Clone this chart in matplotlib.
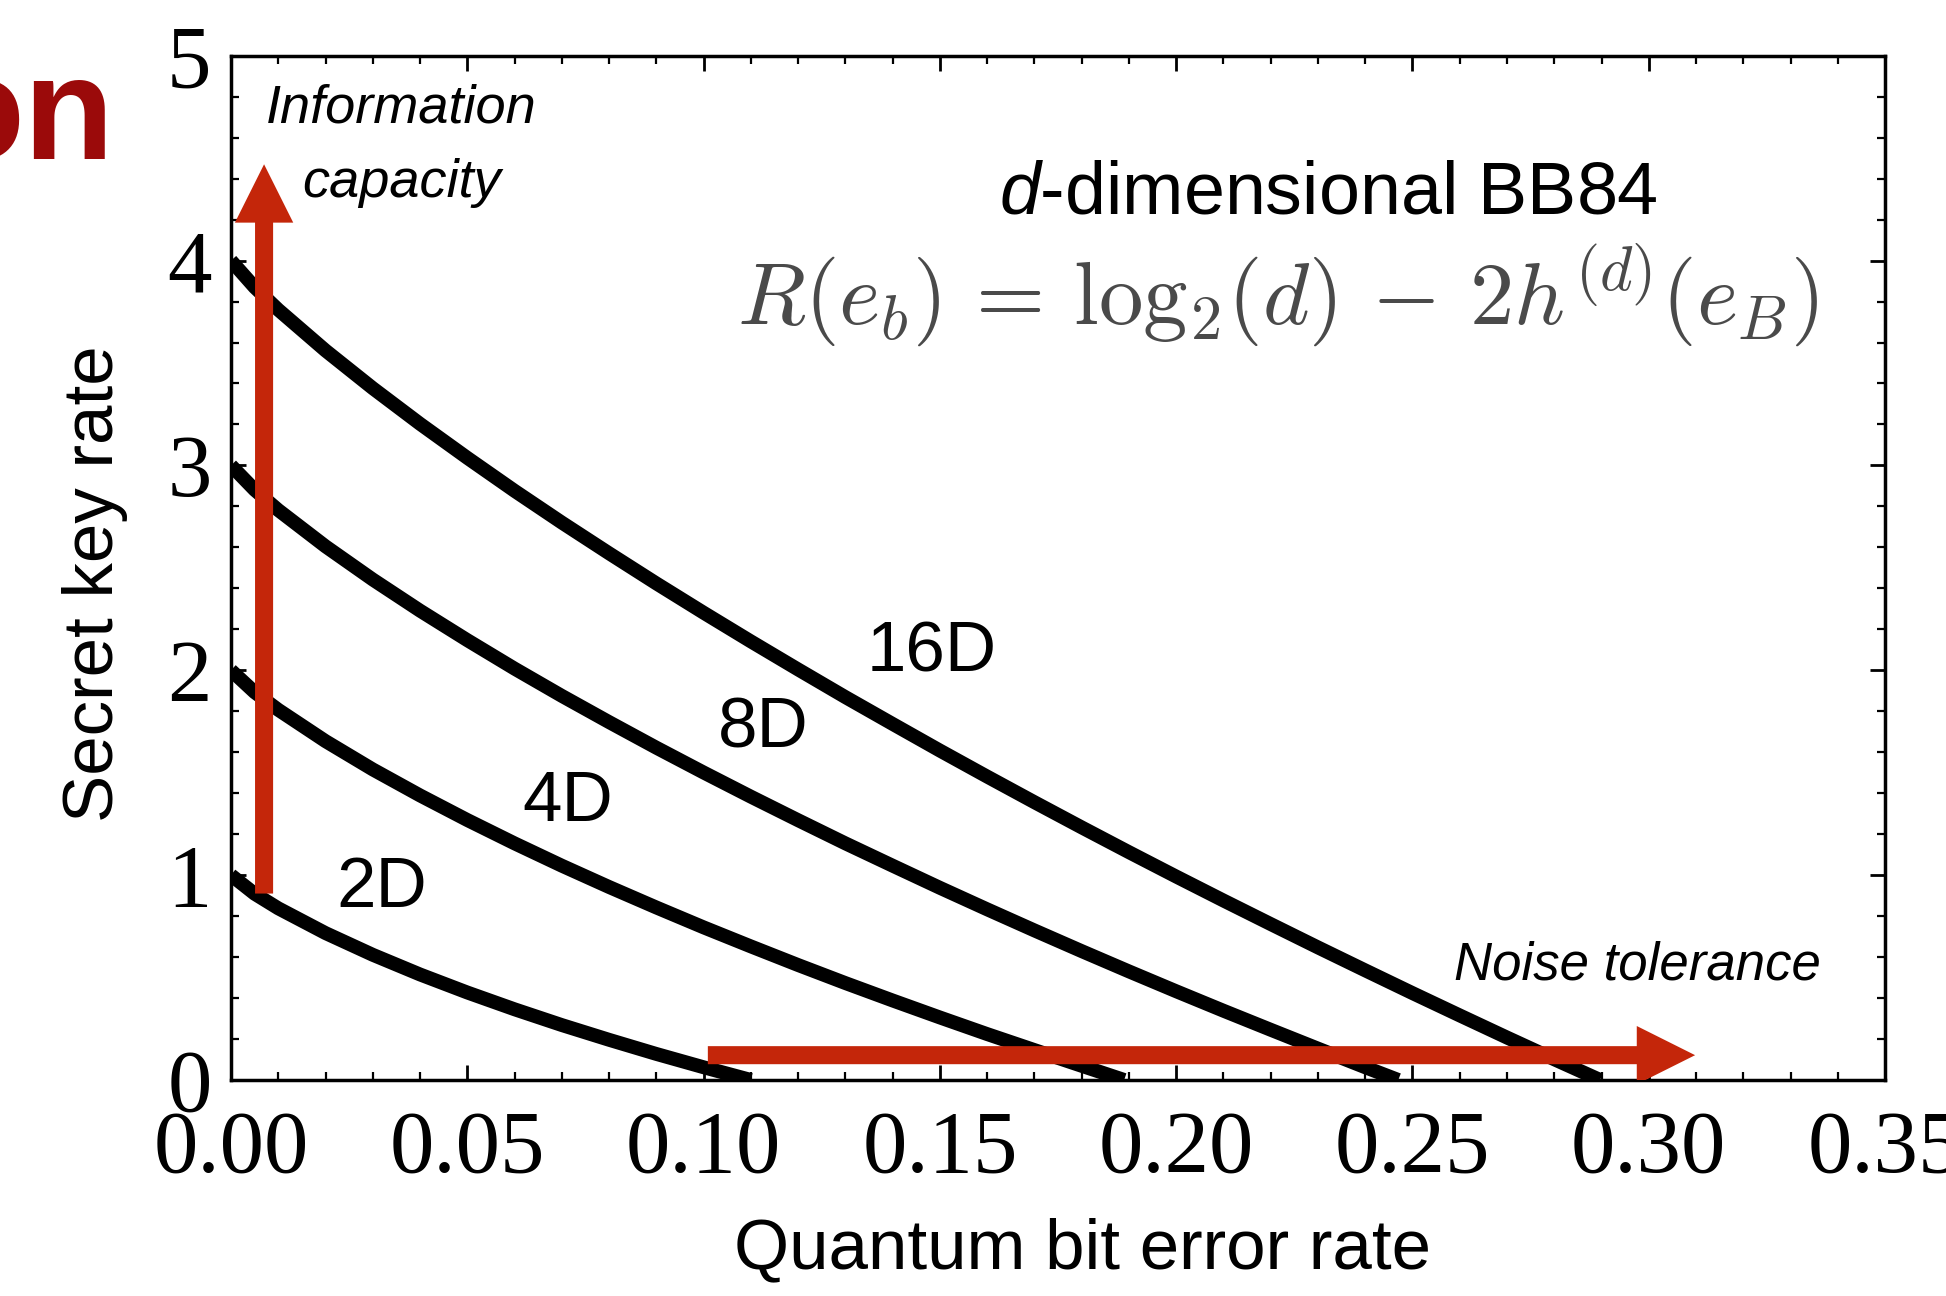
import matplotlib.pyplot as plt
from matplotlib.patches import FancyArrowPatch
from matplotlib.ticker import MultipleLocator, FormatStrFormatter

# Secret key rate of d-dimensional BB84 vs. quantum bit error rate
error_2d = [0.0, 0.005, 0.01, 0.02, 0.03, 0.04, 0.05, 0.06, 0.07, 0.08, 0.09,
            0.10, 0.11]
rate_2d = [1.0, 0.909, 0.838, 0.717, 0.611, 0.515, 0.427, 0.345, 0.268, 0.196,
           0.127, 0.062, 0.0]

error_4d = [0.0, 0.005, 0.01, 0.02, 0.03, 0.04, 0.05, 0.06, 0.07, 0.08, 0.09,
            0.10, 0.11, 0.12, 0.13, 0.14, 0.15, 0.16, 0.17, 0.18, 0.189]
rate_4d = [2.0, 1.893, 1.807, 1.654, 1.516, 1.389, 1.269, 1.155, 1.046, 0.942,
           0.842, 0.745, 0.652, 0.561, 0.473, 0.388, 0.305, 0.224, 0.146,
           0.069, 0.0]

error_8d = [0.0, 0.005, 0.01, 0.02, 0.03, 0.04, 0.05, 0.06, 0.07, 0.08, 0.09,
            0.10, 0.11, 0.12, 0.13, 0.14, 0.15, 0.16, 0.17, 0.18, 0.19, 0.20,
            0.21, 0.22, 0.23, 0.24, 0.247]
rate_8d = [3.0, 2.881, 2.782, 2.605, 2.443, 2.291, 2.147, 2.008, 1.875, 1.747,
           1.622, 1.501, 1.383, 1.268, 1.155, 1.046, 0.938, 0.833, 0.730,
           0.629, 0.530, 0.433, 0.338, 0.245, 0.153, 0.062, 0.0]

error_16d = [0.0, 0.005, 0.01, 0.02, 0.03, 0.04, 0.05, 0.06, 0.07, 0.08, 0.09,
             0.10, 0.11, 0.12, 0.13, 0.14, 0.15, 0.16, 0.17, 0.18, 0.19, 0.20,
             0.21, 0.22, 0.23, 0.24, 0.25, 0.26, 0.27, 0.28, 0.2897]
rate_16d = [4.0, 3.870, 3.760, 3.561, 3.377, 3.203, 3.037, 2.876, 2.721, 2.571,
            2.424, 2.281, 2.141, 2.004, 1.869, 1.738, 1.608, 1.481, 1.356,
            1.233, 1.112, 0.993, 0.876, 0.761, 0.647, 0.535, 0.424, 0.315,
            0.207, 0.101, 0.0]

curve_names = ["2D", "4D", "8D", "16D"]
label_pos = [(0.0318, 0.93), (0.0712, 1.35), (0.1127, 1.71), (0.1482, 2.08)]

x_ticks = [0.0, 0.05, 0.10, 0.15, 0.20, 0.25, 0.30, 0.35]
y_ticks = [0, 1, 2, 3, 4, 5]

sans = ["Liberation Sans", "DejaVu Sans"]
serif = ["Liberation Serif", "DejaVu Serif"]
red = "#c4260a"

plt.rcParams["mathtext.fontset"] = "custom"
plt.rcParams["mathtext.rm"] = "Liberation Sans"
plt.rcParams["mathtext.it"] = "Liberation Sans:italic"

fig = plt.figure(figsize=(19.46, 12.96), dpi=100)
ax = fig.add_axes([0.1187, 0.1667, 0.8500, 0.7903])

curves = [(error_2d, rate_2d), (error_4d, rate_4d),
          (error_8d, rate_8d), (error_16d, rate_16d)]
for (xs, ys), name, (lx, ly) in zip(curves, curve_names, label_pos):
    ax.plot(xs, ys, color="black", lw=10, solid_capstyle="butt", zorder=2)
    ax.text(lx, ly, name, family=sans, fontsize=51, ha="center", va="center")

ax.set_xlim(0, 0.35)
ax.set_ylim(0, 5)
ax.set_xticks(x_ticks)
ax.set_yticks(y_ticks)
ax.xaxis.set_minor_locator(MultipleLocator(0.01))
ax.yaxis.set_minor_locator(MultipleLocator(0.2))
ax.xaxis.set_major_formatter(FormatStrFormatter("%.2f"))
ax.tick_params(which="both", direction="in", top=True, right=True)
ax.tick_params(which="major", length=11, width=2)
ax.tick_params(which="minor", length=6, width=1.6)
ax.tick_params(axis="x", pad=21)
ax.tick_params(axis="y", pad=14)
for lab in ax.get_xticklabels() + ax.get_yticklabels():
    lab.set_family(serif)
    lab.set_fontsize(64)
for sp in ax.spines.values():
    sp.set_linewidth(2.5)

ax.set_xlabel("Quantum bit error rate", family=sans, fontsize=51)
ax.xaxis.set_label_coords(0.515, -0.134)
ax.set_ylabel("Secret key rate", family=sans, fontsize=51)
ax.yaxis.set_label_coords(-0.062, 0.485)

# annotations inside the plot
ax.text(0.2323, 4.23, r"$d$-dimensional BB84", family=sans, fontsize=53,
        ha="center", va="baseline", math_fontfamily="custom")
ax.text(0.2215, 3.83, r"$R(e_b) \,=\, \mathrm{log}_2(d) \,-\, 2h^{(d)}(e_B)$",
        fontsize=64, color="#4a4a4a", ha="center", va="center",
        math_fontfamily="cm")
ax.text(0.036, 4.74, "Information", family=sans, style="italic",
        fontsize=39, ha="center", va="center")
ax.text(0.036, 4.38, "capacity", family=sans, style="italic",
        fontsize=39, ha="center", va="center")
ax.text(0.2975, 0.56, "Noise tolerance", family=sans, style="italic",
        fontsize=38, ha="center", va="center")

arrow_style = "simple,head_length=4.2,head_width=4.2,tail_width=1.3"
up = FancyArrowPatch((0.0070, 0.91), (0.0070, 4.47), arrowstyle=arrow_style,
                     mutation_scale=10, color=red, lw=0, zorder=4,
                     shrinkA=0, shrinkB=0)
right = FancyArrowPatch((0.1009, 0.121), (0.3098, 0.121), arrowstyle=arrow_style,
                        mutation_scale=10, color=red, lw=0, zorder=4,
                        shrinkA=0, shrinkB=0)
ax.add_patch(up)
ax.add_patch(right)

# slide title fragment at top left
fig.text(114 / 1946, 1 - 159 / 1296, "on", family=sans, weight="bold",
         fontsize=106, color="#9b0a0a", ha="right", va="baseline")

fig.savefig("out.png", dpi=100)
